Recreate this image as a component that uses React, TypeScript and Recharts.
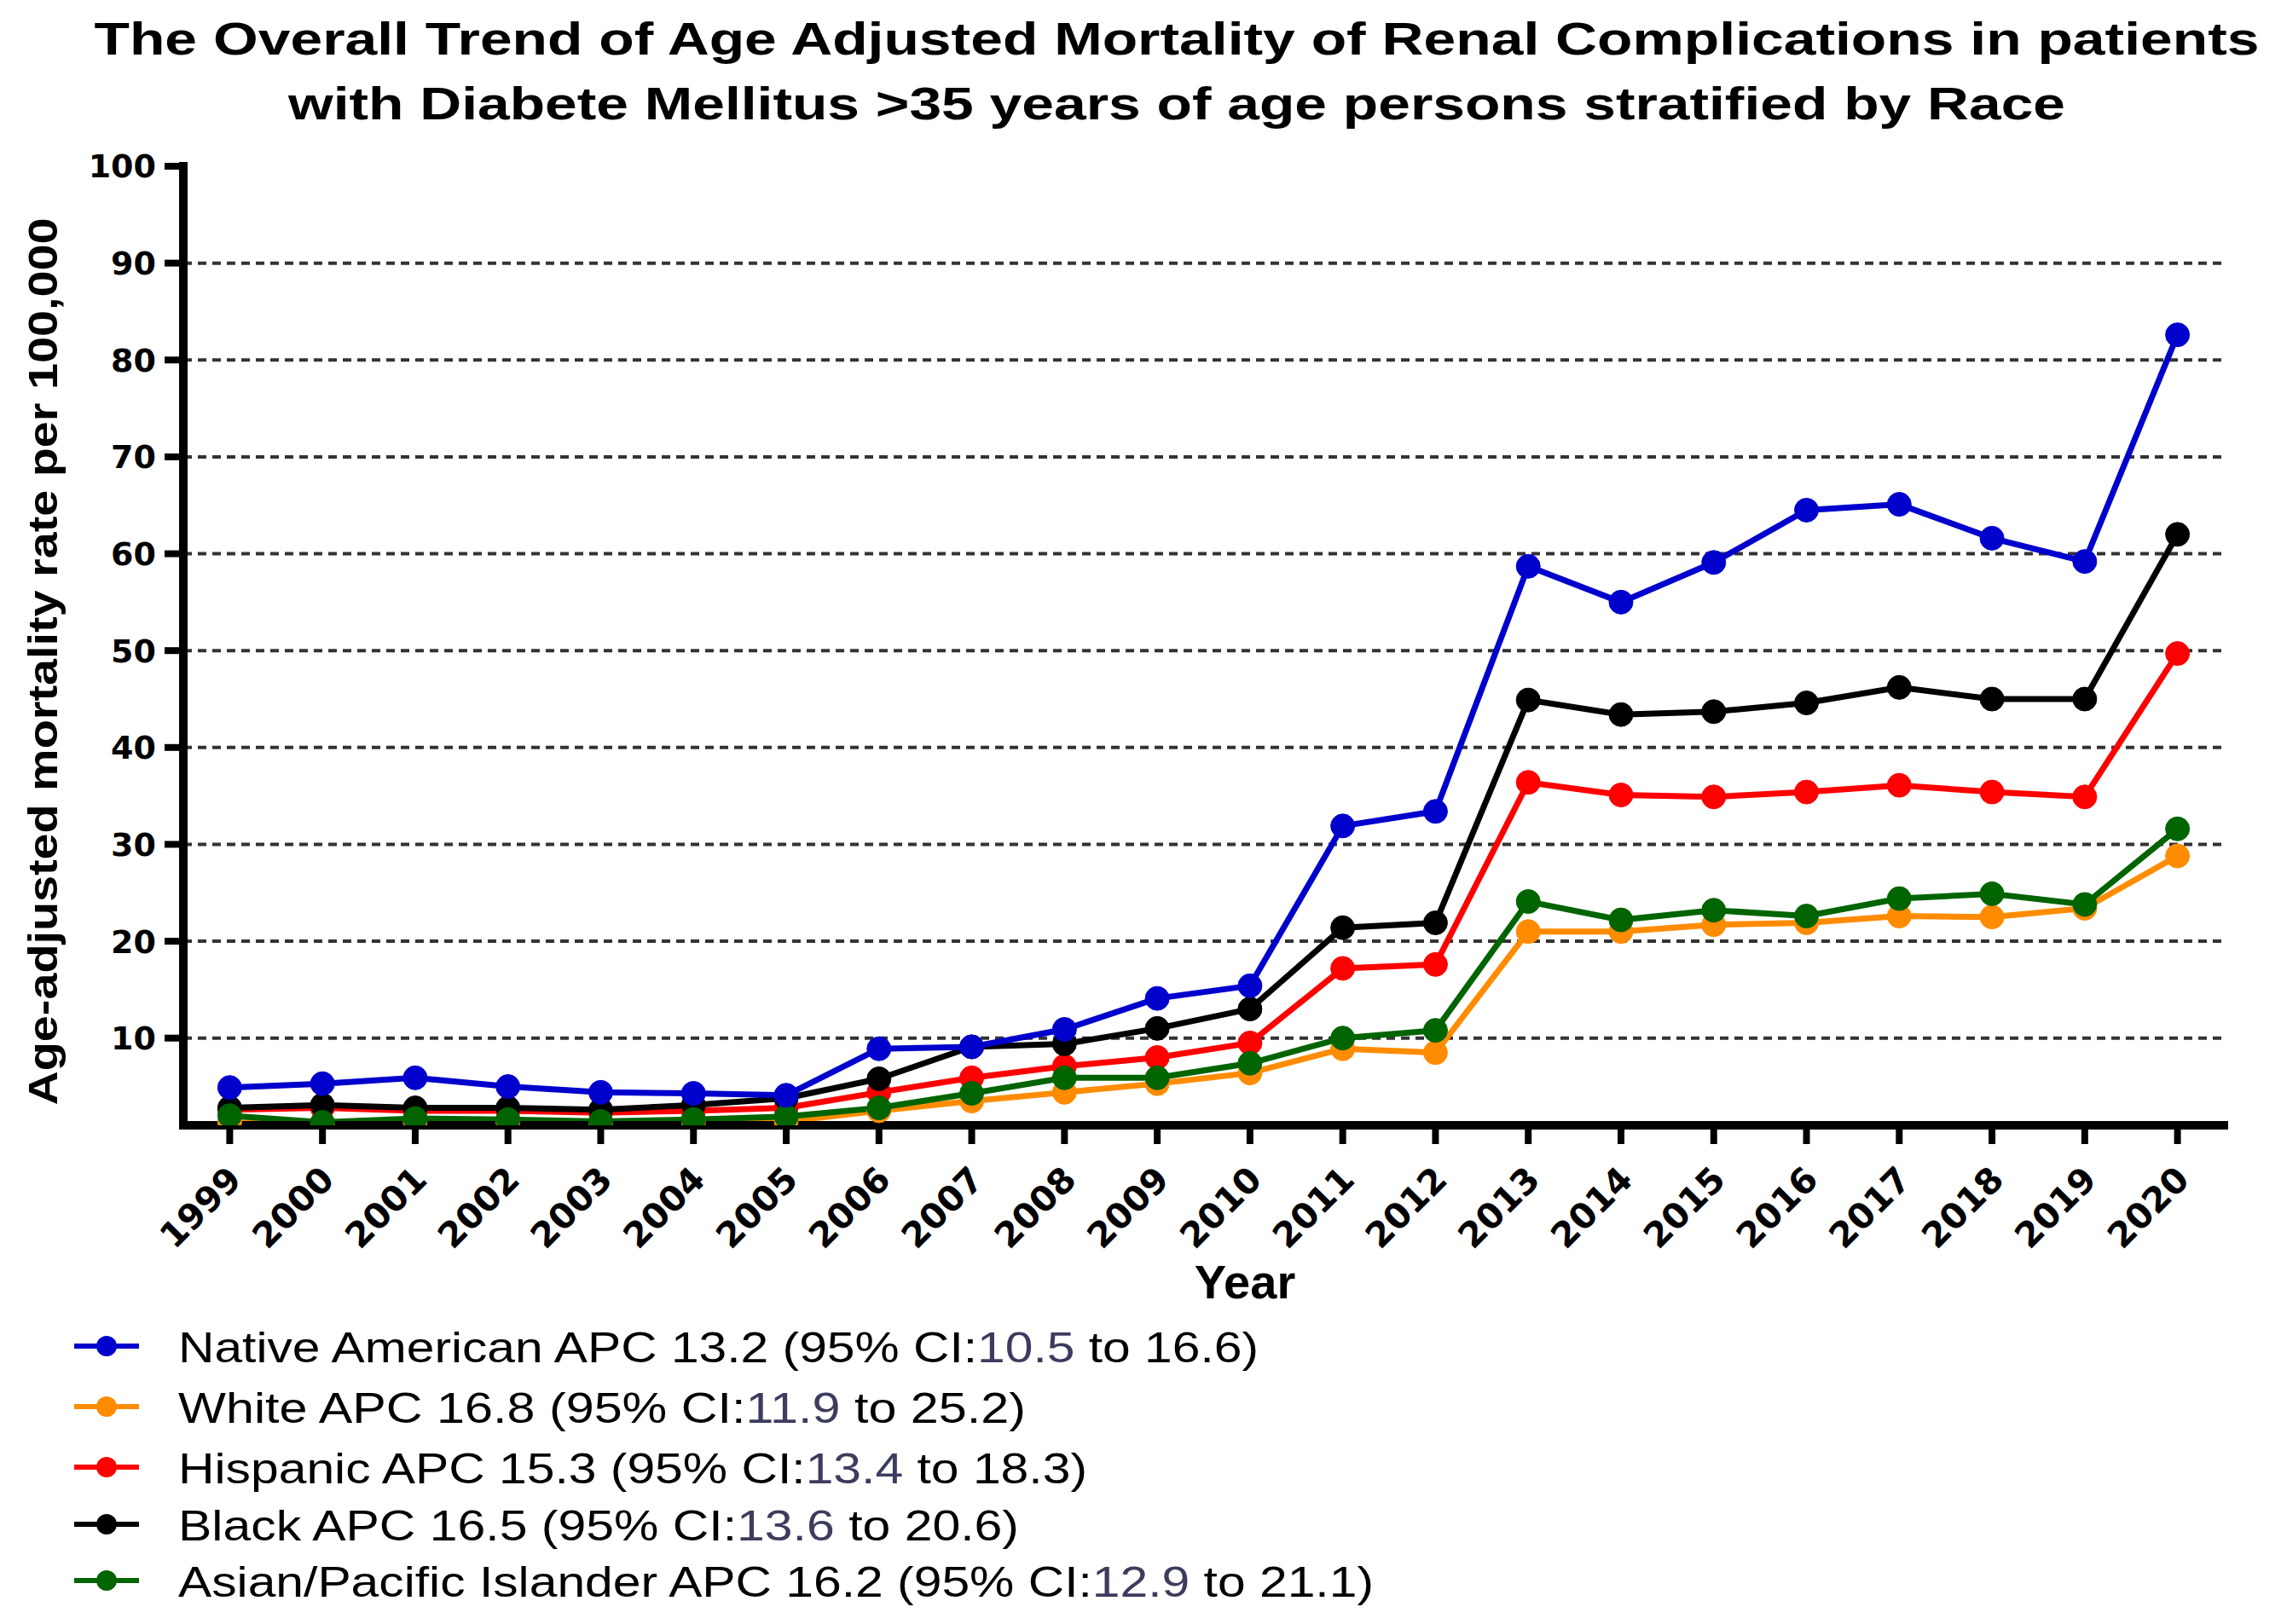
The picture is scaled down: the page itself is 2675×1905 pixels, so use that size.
import { CartesianGrid, Line, LineChart, XAxis, YAxis } from "recharts";

const years = [
  1999, 2000, 2001, 2002, 2003, 2004, 2005, 2006, 2007, 2008, 2009, 2010,
  2011, 2012, 2013, 2014, 2015, 2016, 2017, 2018, 2019, 2020,
];

const nativeAmerican = [
  4.9, 5.3, 5.9, 5.0, 4.4, 4.3, 4.1, 8.9, 9.1, 10.9, 14.1, 15.4,
  31.9, 33.4, 58.7, 55.0, 59.1, 64.5, 65.1, 61.6, 59.2, 82.6,
];
const white = [
  1.3, 1.1, 1.3, 1.3, 1.1, 1.3, 1.4, 2.5, 3.5, 4.4, 5.3, 6.4,
  8.9, 8.5, 21.0, 21.0, 21.7, 21.9, 22.6, 22.5, 23.4, 28.8,
];
const hispanic = [
  2.6, 2.8, 2.5, 2.5, 2.3, 2.5, 2.8, 4.4, 5.9, 7.1, 8.0, 9.5,
  17.2, 17.6, 36.4, 35.1, 34.9, 35.4, 36.1, 35.4, 34.9, 49.7,
];
const black = [
  2.8, 3.1, 2.8, 2.8, 2.6, 3.1, 3.8, 5.8, 9.1, 9.4, 11.0, 13.0,
  21.4, 21.9, 44.9, 43.4, 43.7, 44.6, 46.2, 45.0, 45.0, 62.0,
];
const asianPI = [
  2.0, 1.3, 1.7, 1.6, 1.4, 1.6, 1.9, 2.8, 4.3, 5.9, 5.9, 7.4,
  10.0, 10.8, 24.1, 22.2, 23.2, 22.6, 24.4, 24.9, 23.8, 31.6,
];

const yTicks = [10, 20, 30, 40, 50, 60, 70, 80, 90, 100];
const gridValues = [10, 20, 30, 40, 50, 60, 70, 80, 90];

const legendItems = [
  { key: "native", color: "#0000cd", name: "Native American APC 13.2 (95% CI:", lo: "10.5", hi: " to 16.6)" },
  { key: "white", color: "#ff8c00", name: "White APC 16.8 (95% CI:", lo: "11.9", hi: " to 25.2)" },
  { key: "hispanic", color: "#ff0000", name: "Hispanic APC 15.3 (95% CI:", lo: "13.4", hi: " to 18.3)" },
  { key: "black", color: "#000000", name: "Black APC 16.5 (95% CI:", lo: "13.6", hi: " to 20.6)" },
  { key: "asian", color: "#006400", name: "Asian/Pacific Islander APC 16.2 (95% CI:", lo: "12.9", hi: " to 21.1)" },
];
// measured text widths from the reference, used to stretch the text like the original
const legendWidths = [1267, 994, 1066, 986, 1402];
const legendBaselines = [1598, 1669, 1740, 1807, 1873];

const data = years.map((year, i) => ({
  year,
  native: nativeAmerican[i],
  white: white[i],
  hispanic: hispanic[i],
  black: black[i],
  asian: asianPI[i],
}));

// draw order: blue ends up on top
const drawOrder = ["white", "hispanic", "black", "asian", "native"];

const XTick = (props: any) => {
  const { x, y, payload } = props;
  return (
    <g transform={`translate(${x},${y})`}>
      <text
        x={16}
        y={42}
        textAnchor="end"
        transform="rotate(-45, 16, 42)"
        fill="#000"
        fontSize={41}
        fontWeight="bold"
        fontFamily="DejaVu Sans"
      >
        {payload.value}
      </text>
    </g>
  );
};

const App = () => (
  <div style={{ position: "absolute", left: 0, top: 0, width: 2675, height: 1905, background: "#fff" }}>
    <div style={{ position: "absolute", left: 0, top: 0 }}>
      <LineChart
        width={2675}
        height={1905}
        data={data}
        margin={{ top: 195, right: 67, bottom: 485, left: 115 }}
      >
        <CartesianGrid
          vertical={false}
          horizontalValues={gridValues}
          stroke="#333"
          strokeWidth={4}
          strokeDasharray="10 7"
        />
        <XAxis
          dataKey="year"
          type="number"
          domain={[1998.5, 2020.5]}
          ticks={years}
          interval={0}
          allowDataOverflow
          height={100}
          tickSize={22}
          axisLine={{ stroke: "#000", strokeWidth: 10, strokeLinecap: "square" }}
          tickLine={{ stroke: "#000", strokeWidth: 8 }}
          tick={<XTick />}
        />
        <YAxis
          type="number"
          domain={[1, 100]}
          ticks={yTicks}
          interval={0}
          allowDataOverflow
          width={100}
          tickSize={22}
          tickMargin={10}
          axisLine={{ stroke: "#000", strokeWidth: 10, strokeLinecap: "square" }}
          tickLine={{ stroke: "#000", strokeWidth: 8 }}
          tick={{ fill: "#000", fontSize: 38, fontWeight: "bold", fontFamily: "DejaVu Sans" }}
        />
        {drawOrder.map((k) => {
          const item = legendItems.find((l) => l.key === k)!;
          return (
            <Line
              key={k}
              type="linear"
              dataKey={k}
              stroke={item.color}
              strokeWidth={7}
              dot={{ r: 14, fill: item.color, stroke: item.color, strokeWidth: 1 }}
              activeDot={false}
              isAnimationActive={false}
            />
          );
        })}
      </LineChart>
    </div>
    <svg
      width={2675}
      height={1905}
      style={{ position: "absolute", left: 0, top: 0, pointerEvents: "none" }}
      fontFamily="Liberation Sans, Arial, sans-serif"
    >
      <text x={1380} y={64} textAnchor="middle" fontSize={54} fontWeight="bold" textLength={2539} lengthAdjust="spacingAndGlyphs">
        The Overall Trend of Age Adjusted Mortality of Renal Complications in patients
      </text>
      <text x={1380} y={140} textAnchor="middle" fontSize={54} fontWeight="bold" textLength={2084} lengthAdjust="spacingAndGlyphs">
        with Diabete Mellitus &gt;35 years of age persons stratified by Race
      </text>
      <text
        x={67}
        y={776}
        textAnchor="middle"
        transform="rotate(-90, 67, 776)"
        fontSize={48}
        fontWeight="bold"
        textLength={1041}
        lengthAdjust="spacingAndGlyphs"
      >
        Age-adjusted mortality rate per 100,000
      </text>
      <text x={1460} y={1523} textAnchor="middle" fontSize={56} fontWeight="bold">
        Year
      </text>
      {legendItems.map((item, i) => {
        const by = legendBaselines[i];
        return (
          <g key={item.key}>
            <line x1={87} x2={163} y1={by - 19} y2={by - 19} stroke={item.color} strokeWidth={6} />
            <circle cx={125} cy={by - 19} r={12} fill={item.color} />
            <text x={209} y={by} fontSize={50} textLength={legendWidths[i]} lengthAdjust="spacingAndGlyphs" fill="#000">
              {item.name}
              <tspan fill="#3c3c5e">{item.lo}</tspan>
              {item.hi}
            </text>
          </g>
        );
      })}
    </svg>
  </div>
);

export default App;
